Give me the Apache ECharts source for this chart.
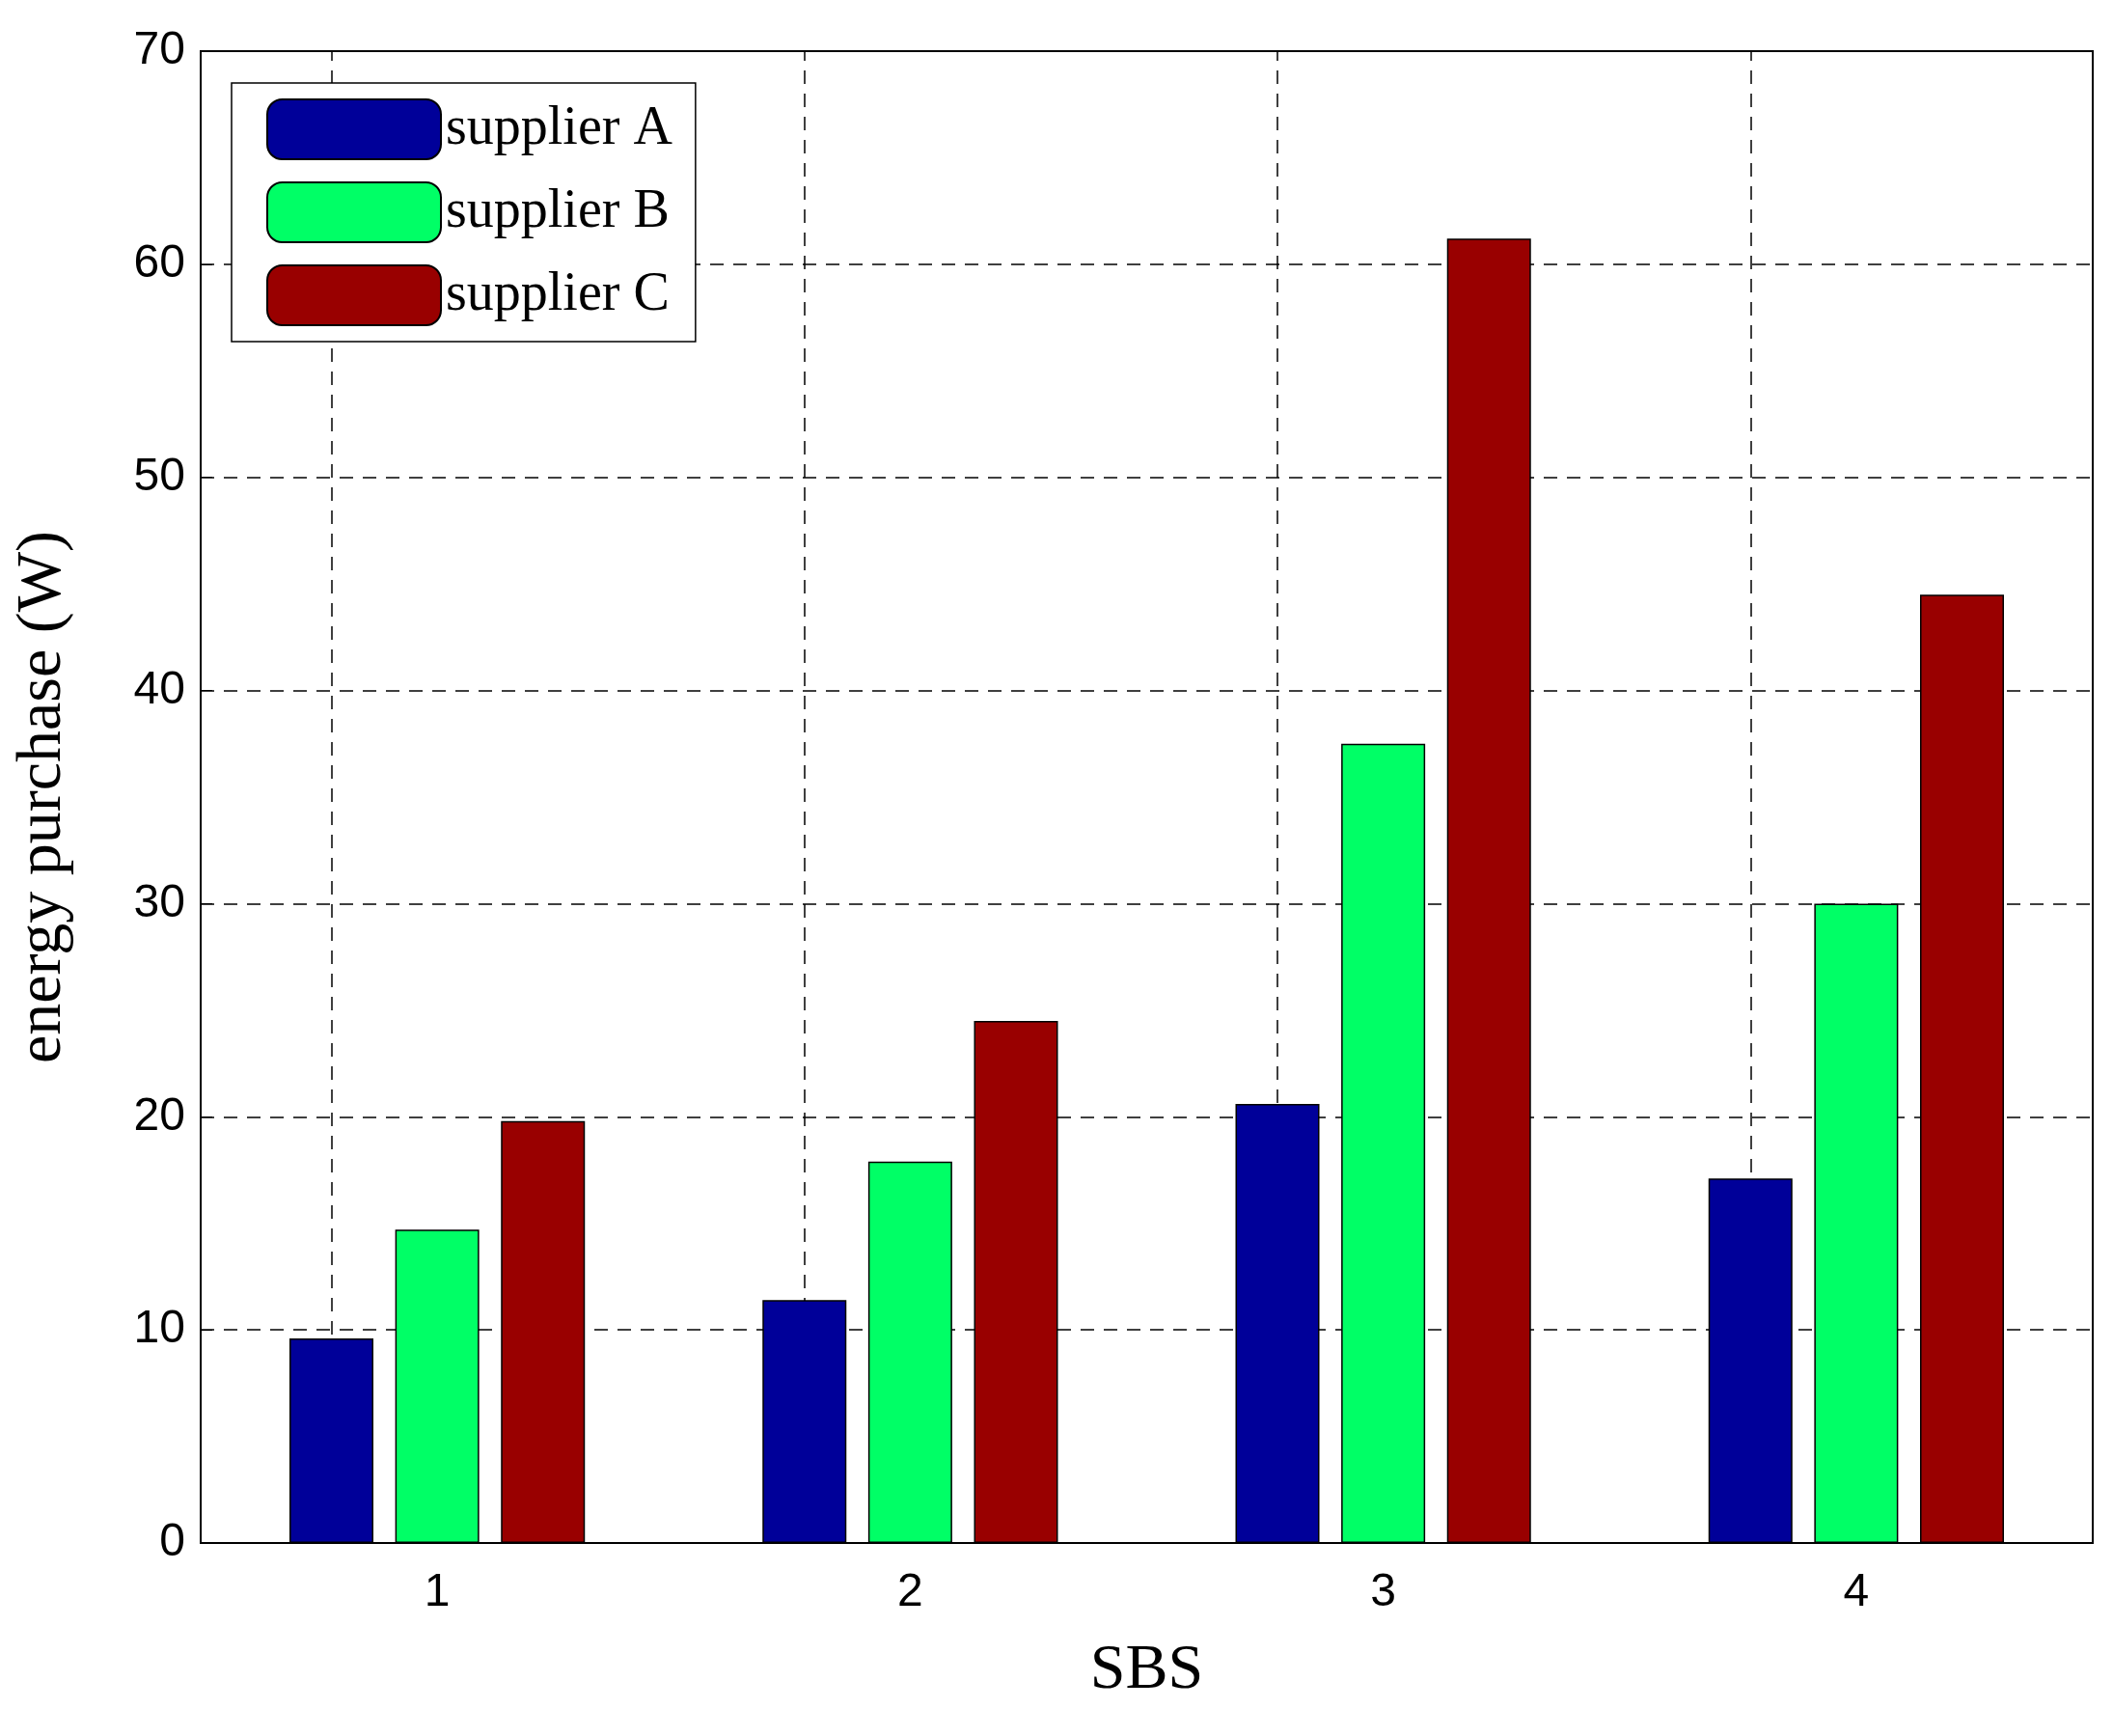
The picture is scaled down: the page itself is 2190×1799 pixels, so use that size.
<!DOCTYPE html>
<html>
<head>
<meta charset="utf-8">
<script src="https://cdn.jsdelivr.net/npm/echarts@6/dist/echarts.min.js"></script>
<style>html,body{margin:0;padding:0;background:#fff}#chart{width:2190px;height:1799px}</style>
</head>
<body>
<div id="chart"></div>
<script>
const categories = ['1', '2', '3', '4'];
const supplierA = [9.6, 11.4, 20.6, 17.1];
const supplierB = [14.7, 17.9, 37.5, 30.0];
const supplierC = [19.8, 24.5, 61.2, 44.5];
const yTicks = { min: 0, max: 70, interval: 10 };

var chart = echarts.init(document.getElementById('chart'));
const dashed = { color: '#000', type: [14, 10], width: 1.5 };
const barStyle = (c) => ({ color: c, borderColor: '#000', borderWidth: 1.5 });

var option = {
    animation: false,
    backgroundColor: '#fff',
    grid: { left: 208, right: 21, top: 53, bottom: 200, show: true, borderColor: '#000', borderWidth: 2, containLabel: false },
    legend: {
        orient: 'vertical', left: 240, top: 86,
        itemWidth: 180, itemHeight: 62, itemGap: 22,
        backgroundColor: '#fff', borderColor: '#000', borderWidth: 1.5,
        padding: [16, 24, 16, 36],
        textStyle: { fontFamily: 'Liberation Serif', fontSize: 56, color: '#000' },
        data: ['supplier A', 'supplier B', 'supplier C']
    },
    xAxis: {
        type: 'category', data: categories,
        name: 'SBS', nameLocation: 'middle', nameGap: 100,
        nameTextStyle: { fontFamily: 'Liberation Serif', fontSize: 66, color: '#000' },
        axisLine: { lineStyle: { color: '#000', width: 2 } },
        axisTick: { show: false },
        axisLabel: { fontFamily: 'Liberation Sans', fontSize: 48, color: '#000', margin: 28 },
        splitLine: { show: false }
    },
    yAxis: {
        type: 'value', min: yTicks.min, max: yTicks.max, interval: yTicks.interval,
        name: 'energy purchase (W)', nameLocation: 'middle', nameGap: 130,
        nameTextStyle: { fontFamily: 'Liberation Serif', fontSize: 66, color: '#000' },
        axisLine: { show: true, lineStyle: { color: '#000', width: 2 } },
        axisTick: { show: true, inside: true, length: 12, lineStyle: { color: '#000' } },
        axisLabel: { fontFamily: 'Liberation Sans', fontSize: 48, color: '#000', margin: 16 },
        splitLine: { show: true, lineStyle: dashed }
    },
    series: [
        {
            name: 'supplier A', type: 'bar', data: supplierA, barWidth: 87, barGap: '26%',
            itemStyle: barStyle('#000099'),
            markLine: {
                silent: true, symbol: 'none', label: { show: false },
                lineStyle: dashed, z: 0,
                data: categories.map(c => ({ xAxis: c }))
            }
        },
        { name: 'supplier B', type: 'bar', data: supplierB, barWidth: 87, barGap: '26%', itemStyle: barStyle('#00ff66') },
        { name: 'supplier C', type: 'bar', data: supplierC, barWidth: 87, barGap: '26%', itemStyle: barStyle('#990000') }
    ]
};
chart.setOption(option);
</script>
</body>
</html>
